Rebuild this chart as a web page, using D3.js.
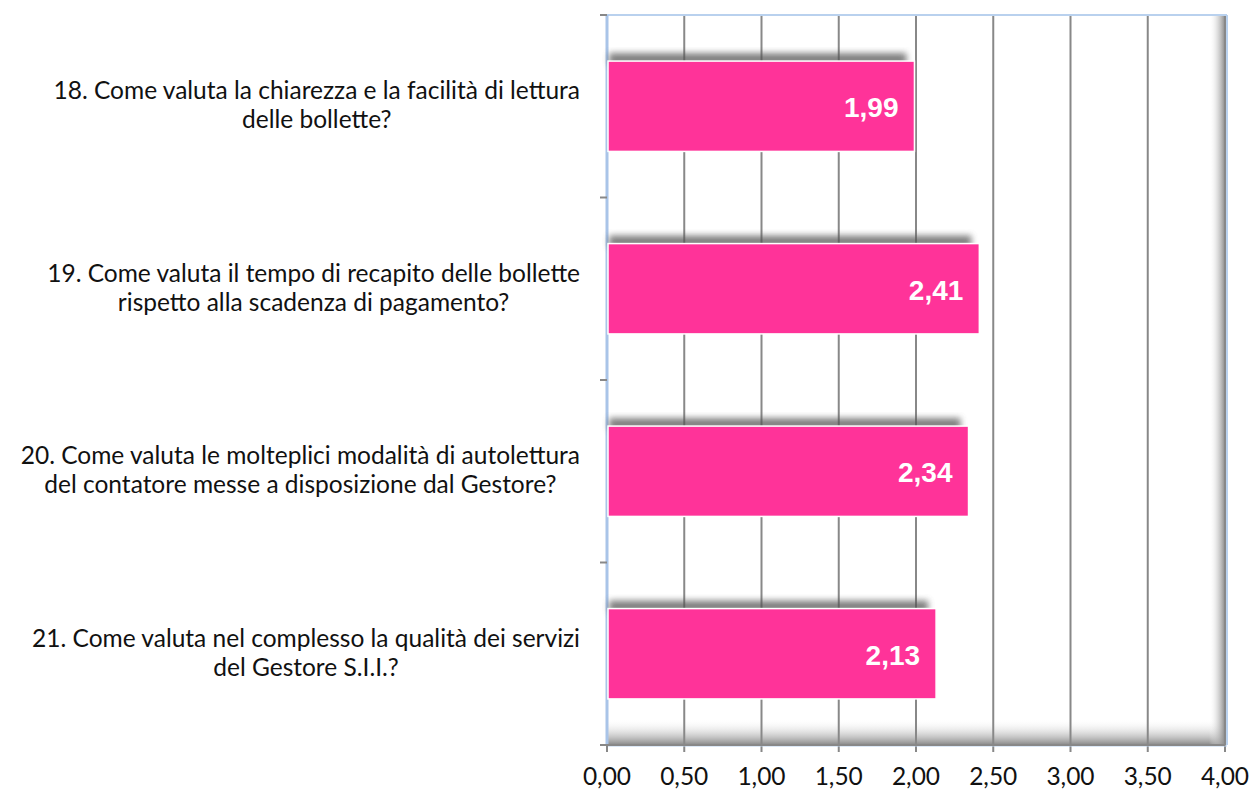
<!DOCTYPE html>
<html>
<head>
<meta charset="utf-8">
<script src="https://cdn.jsdelivr.net/npm/d3@7"></script>
<style>
  body { margin: 0; background: #fff; }
  svg { display: block; }
</style>
</head>
<body>
<svg id="chart" width="1252" height="792"></svg>
<script>
// data
var questions = [
  ["18. Come valuta la chiarezza e la facilità di lettura", "delle bollette?"],
  ["19. Come valuta il tempo di recapito delle bollette", "rispetto alla scadenza di pagamento?"],
  ["20. Come valuta le molteplici modalità di autolettura", "del contatore messe a disposizione dal Gestore?"],
  ["21. Come valuta nel complesso la qualità dei servizi", "del Gestore S.I.I.?"]
];
var scores = [1.99, 2.41, 2.34, 2.13];
var xTicks = [0, 0.5, 1, 1.5, 2, 2.5, 3, 3.5, 4];

var svg = d3.select("#chart");
var pLeft = 607, pRight = 1225, pTop = 15, pBottom = 745;

var x = d3.scaleLinear().domain([0, 4]).range([pLeft, pRight]);
var y = d3.scaleBand().domain(d3.range(questions.length)).range([pTop, pBottom]).paddingInner(0.505).paddingOuter(0.2525);
var fmt = function(v) { return d3.format(".2f")(v).replace(".", ","); };

var defs = svg.append("defs");
var floorGrad = defs.append("linearGradient").attr("id", "floor").attr("x1", 0).attr("y1", 0).attr("x2", 0).attr("y2", 1);
floorGrad.append("stop").attr("offset", "0%").attr("stop-color", "#fff").attr("stop-opacity", 0);
floorGrad.append("stop").attr("offset", "100%").attr("stop-color", "#888");
var wallGrad = defs.append("linearGradient").attr("id", "wall").attr("x1", 0).attr("y1", 0).attr("x2", 1).attr("y2", 0);
wallGrad.append("stop").attr("offset", "0%").attr("stop-color", "#fff").attr("stop-opacity", 0);
wallGrad.append("stop").attr("offset", "100%").attr("stop-color", "#8a8a8a");
defs.append("filter").attr("id", "blur").attr("x", "-10%").attr("y", "-50%").attr("width", "120%").attr("height", "200%")
  .append("feGaussianBlur").attr("stdDeviation", 3);

// floor and wall shading
svg.append("rect").attr("x", pLeft).attr("y", pBottom - 26).attr("width", pRight - pLeft).attr("height", 26).attr("fill", "url(#floor)");
svg.append("rect").attr("x", pRight - 16).attr("y", pTop).attr("width", 16).attr("height", pBottom - pTop).attr("fill", "url(#wall)");

// gridlines
svg.append("g").selectAll("line").data(xTicks.slice(1)).join("line")
  .attr("x1", function(d) { return x(d); }).attr("x2", function(d) { return x(d); })
  .attr("y1", pTop).attr("y2", pBottom + 7)
  .attr("stroke", "#888").attr("stroke-width", 2);

// frame
svg.append("line").attr("x1", pLeft).attr("x2", pRight + 2).attr("y1", pTop).attr("y2", pTop).attr("stroke", "#b9d1ee").attr("stroke-width", 2);
svg.append("line").attr("x1", pRight + 2).attr("x2", pRight + 2).attr("y1", pTop).attr("y2", pBottom).attr("stroke", "#b9d1ee").attr("stroke-width", 2);
svg.append("line").attr("x1", pLeft).attr("x2", pRight + 2).attr("y1", pBottom + 1).attr("y2", pBottom + 1).attr("stroke", "#b9d1ee").attr("stroke-width", 1);
svg.append("line").attr("x1", pLeft).attr("x2", pLeft).attr("y1", pTop).attr("y2", pBottom).attr("stroke", "#a9c4e8").attr("stroke-width", 3);

// category ticks
var catTicks = d3.range(questions.length + 1).map(function(i) { return pTop + i * y.step(); });
svg.append("g").selectAll("line").data(catTicks).join("line")
  .attr("x1", pLeft - 7).attr("x2", pLeft).attr("y1", function(d) { return d; }).attr("y2", function(d) { return d; })
  .attr("stroke", "#888").attr("stroke-width", 2);
svg.append("line").attr("x1", pLeft - 7).attr("x2", pRight).attr("y1", pBottom).attr("y2", pBottom).attr("stroke", "#888").attr("stroke-width", 2);
svg.append("line").attr("x1", pLeft).attr("x2", pLeft).attr("y1", pBottom).attr("y2", pBottom + 7).attr("stroke", "#888").attr("stroke-width", 2);

// bar shadows
svg.append("g").selectAll("rect").data(scores).join("rect")
  .attr("x", pLeft + 2).attr("y", function(d, i) { return y(i) - 8; })
  .attr("width", function(d) { return x(d) - pLeft - 10; }).attr("height", 12)
  .attr("fill", "#555").attr("opacity", 0.75).attr("filter", "url(#blur)");

// bars
svg.append("g").selectAll("rect").data(scores).join("rect")
  .attr("x", pLeft + 1).attr("y", function(d, i) { return y(i); })
  .attr("width", function(d) { return x(d) - pLeft - 1; }).attr("height", y.bandwidth())
  .attr("fill", "#ff3399").attr("stroke", "#fff").attr("stroke-width", 1.5);

// value labels
svg.append("g").selectAll("text").data(scores).join("text")
  .attr("x", function(d) { return x(d) - 16; })
  .attr("y", function(d, i) { return y(i) + y.bandwidth() / 2 + 11; })
  .attr("text-anchor", "end").attr("fill", "#fff")
  .attr("font-family", "Liberation Sans, Arial, sans-serif").attr("font-weight", "bold").attr("font-size", 28)
  .text(fmt);

// category labels: lines centred on each other, block right-aligned at 580
var lab = svg.append("g").selectAll("text").data(questions).join("text")
  .attr("text-anchor", "middle")
  .attr("font-family", "Lato, sans-serif").attr("font-size", 24.5).attr("fill", "#111")
  .attr("y", function(d, i) { return y(i) + y.bandwidth() / 2 - 7; });
lab.each(function(d) {
  var t = d3.select(this);
  t.selectAll("tspan").data(d).join("tspan").text(function(s) { return s; });
  var w = d3.max(t.selectAll("tspan").nodes(), function(n) { return n.getComputedTextLength(); });
  var cx = 580 - w / 2;
  t.selectAll("tspan").attr("x", cx).attr("dy", function(s, j) { return j === 0 ? 0 : 29; });
});

// x tick labels
svg.append("g").selectAll("text").data(xTicks).join("text")
  .attr("x", function(d) { return x(d); }).attr("y", 785)
  .attr("text-anchor", "middle")
  .attr("font-family", "Lato, sans-serif").attr("font-size", 24.5).attr("fill", "#111")
  .text(fmt);
</script>
</body>
</html>
